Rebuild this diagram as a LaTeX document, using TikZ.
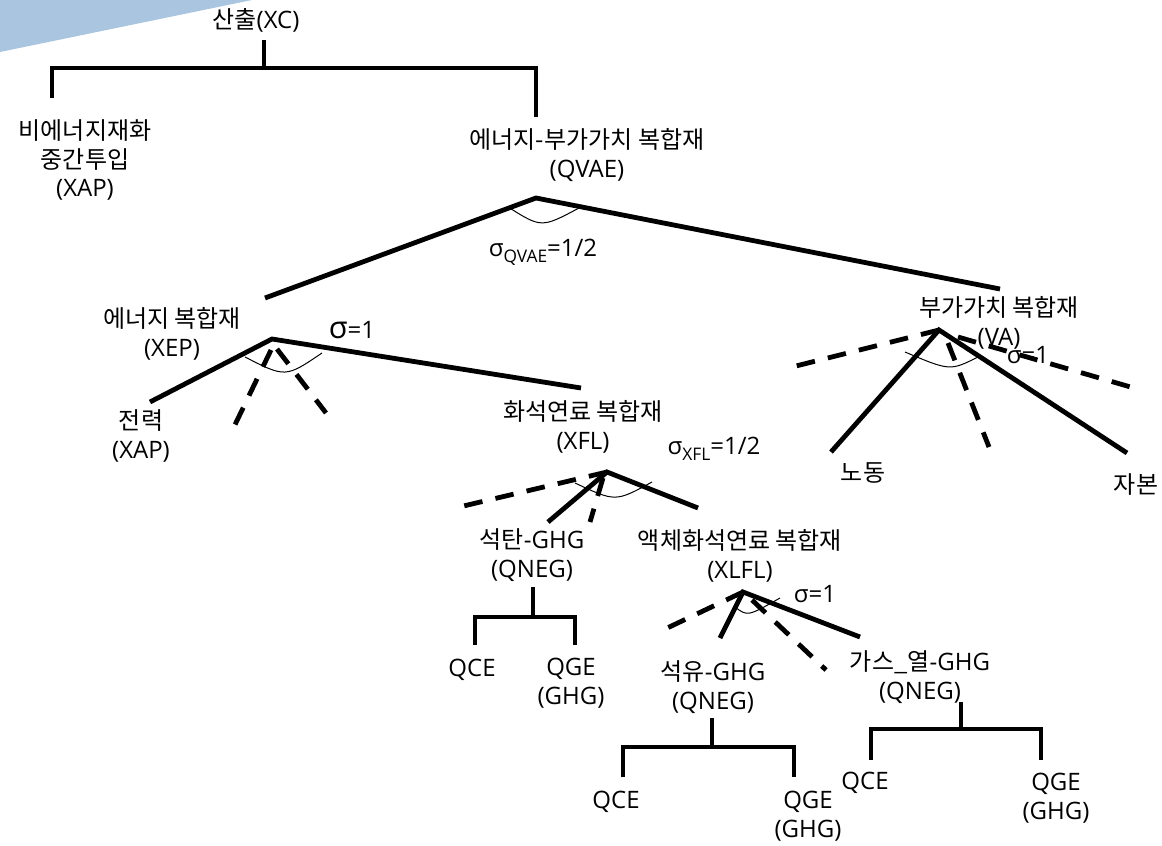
\documentclass[tikz,border=0pt]{standalone}
\usepackage{fontspec}
\setmainfont{Open Sans}
\newfontfamily\krfont{Noto Sans CJK KR}
\newcommand{\K}[1]{{\krfont #1}}
\newcommand{\subs}[1]{\raisebox{-0.45ex}{\fontsize{13}{13}\selectfont #1}}
\definecolor{bandblue}{RGB}{170,197,223}
\begin{document}
\begin{tikzpicture}[x=0.75pt,y=-0.75pt,
  lbl/.style={font=\fontsize{18}{21.5}\selectfont, align=center, inner sep=0pt},
  bar/.style={line width=3.6pt},
  dsh/.style={line width=3.6pt, dash pattern=on 14pt off 10pt},
  arcline/.style={line width=0.75pt}]
\useasboundingbox (0,0) rectangle (1162,845);
\fill[bandblue] (0,0) -- (252,0) -- (0,52) -- cycle;

% labels
\node[lbl] (out) at (256,20) {\K{산출}(XC)};
\node[lbl] (nonen) at (85,160) {\K{비에너지재화}\\\K{중간투입}\\(XAP)};
\node[lbl] (qvae) at (587,155) {\K{에너지-부가가치 복합재}\\(QVAE)};
\node[lbl] (sigq) at (543,252) {σ\subs{QVAE}=1/2};
\node[lbl] (xep) at (172,334) {\K{에너지 복합재}\\(XEP)};
\node[lbl] (sige) at (352,330) {{\fontsize{23}{23}\selectfont σ}=1};
\node[lbl] (elec) at (141,436) {\K{전력}\\(XAP)};
\node[lbl] (xfl) at (583,427) {\K{화석연료 복합재}\\(XFL)};
\node[lbl] (sigx) at (714,449) {σ\subs{XFL}=1/2};
\node[lbl] (va) at (999,323) {\K{부가가치 복합재}\\(VA)};
\node[lbl] (sigv) at (1028,355) {σ=1};
\node[lbl] (labor) at (863,473) {\K{노동}};
\node[lbl] (cap) at (1136,485) {\K{자본}};
\node[lbl] (coal) at (532,555) {\K{석탄}-GHG\\(QNEG)};
\node[lbl] (xlfl) at (740,556) {\K{액체화석연료 복합재}\\(XLFL)};
\node[lbl] (sigl) at (815,594) {σ=1};
\node[lbl] (qceA) at (472,670) {QCE};
\node[lbl] (qgeA) at (571,683) {QGE\\(GHG)};
\node[lbl] (oil) at (713,687) {\K{석유}-GHG\\(QNEG)};
\node[lbl] (qceB) at (616,802) {QCE};
\node[lbl] (qgeB) at (808,816) {QGE\\(GHG)};
\node[lbl] (gas) at (920,677) {\K{가스\_열}-GHG\\(QNEG)};
\node[lbl] (qceC) at (865,783) {QCE};
\node[lbl] (qgeC) at (1056,798) {QGE\\(GHG)};

% top bracket
\coordinate (outS) at (264,40); \coordinate (outJ) at (264,68);
\coordinate (barL) at (52,68);  \coordinate (barR) at (536,68);
\coordinate (nonT) at (52,98);  \coordinate (qvaeT) at (536,117);
\draw[bar] (outS) -- (outJ);
\draw[bar] (nonT) -- (barL) -- (barR) -- (qvaeT);

% QVAE nest
\coordinate (A1) at (536,198);
\coordinate (xepT) at (265,298);
\coordinate (vaT) at (1000,289);
\draw[bar] (xepT) -- (A1) -- (vaT);
\draw[arcline] (508,207) .. controls (541.5,228) .. (579,208);

% XEP nest
\coordinate (A2) at (272,339);
\coordinate (elecT) at (150,402);
\coordinate (xflT) at (581,388);
\coordinate (A2d1) at (271,350); \coordinate (A2e1) at (231,433);
\coordinate (A2d2) at (277,349); \coordinate (A2e2) at (326,413);
\draw[bar] (elecT) -- (A2) -- (xflT);
\draw[dsh] (A2d1) -- (A2e1);
\draw[dsh] (A2d2) -- (A2e2);
\draw[arcline] (245,357) .. controls (285.5,377.7) .. (322,353);

% VA nest
\coordinate (A3) at (939,330);
\coordinate (laborT) at (831,452);
\coordinate (capT) at (1127,453);
\coordinate (A3e1) at (788,368);
\coordinate (A3d2) at (948,343); \coordinate (A3e2) at (989,447);
\coordinate (A3d3) at (958,337); \coordinate (A3e3) at (1134,388);
\draw[dsh] (A3) -- (A3e1);
\draw[bar] (laborT) -- (A3) -- (capT);
\draw[dsh] (A3d2) -- (A3e2);
\draw[dsh] (A3d3) -- (A3e3);
\draw[arcline] (905,352) .. controls (950,371) .. (978,357);

% XFL nest
\coordinate (A4) at (607,472);
\coordinate (coalT) at (548,522);
\coordinate (xlflT) at (698,508);
\coordinate (A4e1) at (455,508);
\coordinate (A4d2) at (603,478); \coordinate (A4e2) at (590,522);
\draw[dsh] (A4) -- (A4e1);
\draw[bar] (coalT) -- (A4) -- (xlflT);
\draw[dsh] (A4d2) -- (A4e2);
\draw[arcline] (575,483) .. controls (615.5,502) .. (652,482);

% XLFL nest
\coordinate (A5) at (743,592);
\coordinate (oilT) at (720,638);
\coordinate (gasT) at (860,637);
\coordinate (A5e1) at (663,630);
\coordinate (A5d2) at (752,600); \coordinate (A5e2) at (826,670);
\draw[dsh] (A5) -- (A5e1);
\draw[bar] (oilT) -- (A5) -- (gasT);
\draw[dsh] (A5d2) -- (A5e2);
\draw[arcline] (735,607) .. controls (747.5,616.5) .. (780,598);

% coal bracket
\coordinate (coalS) at (533,587); \coordinate (coalJ) at (533,617);
\coordinate (cbL) at (475,617); \coordinate (cbR) at (575,617);
\coordinate (qceAT) at (475,645); \coordinate (qgeAT) at (575,645);
\draw[bar] (coalS) -- (coalJ);
\draw[bar] (qceAT) -- (cbL) -- (cbR) -- (qgeAT);

% oil bracket
\coordinate (oilS) at (712,718); \coordinate (oilJ) at (712,747);
\coordinate (obL) at (623,747); \coordinate (obR) at (794,747);
\coordinate (qceBT) at (623,777); \coordinate (qgeBT) at (794,777);
\draw[bar] (oilS) -- (oilJ);
\draw[bar] (qceBT) -- (obL) -- (obR) -- (qgeBT);

% gas bracket
\coordinate (gasS) at (961,702); \coordinate (gasJ) at (961,729);
\coordinate (gbL) at (871,729); \coordinate (gbR) at (1041,729);
\coordinate (qceCT) at (871,760); \coordinate (qgeCT) at (1041,760);
\draw[bar] (gasS) -- (gasJ);
\draw[bar] (qceCT) -- (gbL) -- (gbR) -- (qgeCT);
\end{tikzpicture}
\end{document}
